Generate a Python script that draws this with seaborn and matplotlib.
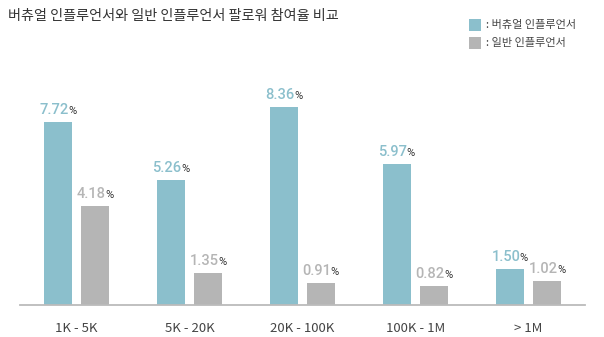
import matplotlib
matplotlib.use("Agg")
import matplotlib.pyplot as plt
import seaborn as sns
import pandas as pd
from matplotlib.patches import Rectangle

categories = ["1K - 5K", "5K - 20K", "20K - 100K", "100K - 1M", "> 1M"]
virtual = [7.72, 5.26, 8.36, 5.97, 1.50]
general = [4.18, 1.35, 0.91, 0.82, 1.02]
series_names = ["버츄얼 인플루언서", "일반 인플루언서"]
title = "버츄얼 인플루언서와 일반 인플루언서 팔로워 참여율 비교"

colors = ["#8bbfcc", "#b5b5b5"]

sns.set_theme(style="white")
plt.rcParams["font.family"] = ["Noto Sans CJK KR", "DejaVu Sans"]

df = pd.DataFrame({
    "cat": categories * 2,
    "val": virtual + general,
    "series": [series_names[0]] * len(categories) + [series_names[1]] * len(categories),
})

fig = plt.figure(figsize=(6.04, 3.37), dpi=100)
W, H = 604, 337
ax = fig.add_axes([20 / W, (H - 305) / H, 565 / W, 237 / H])
sns.barplot(data=df, x="cat", y="val", hue="series", order=categories,
            hue_order=series_names, palette=colors, width=0.656, gap=0.268,
            saturation=1, errorbar=None, ax=ax, legend=False, linewidth=0)
ax.set_xlim(-0.5, 4.5)
ax.set_ylim(0, 10)
ax.set_xlabel("")
ax.set_ylabel("")
ax.set_yticks([])
for s in ["top", "left", "right"]:
    ax.spines[s].set_visible(False)
ax.spines["bottom"].set_color("#bbbbbb")
ax.spines["bottom"].set_linewidth(1.3)
ax.tick_params(axis="x", length=0, pad=12, labelsize=9.5, labelcolor="#444444")
for lab in ax.get_xticklabels():
    lab.set_family(["Noto Sans CJK KR", "DejaVu Sans"])

fig.text(8 / W, 1 - 16 / H, title, fontsize=10.2, color="#333333", va="center", ha="left")

# legend
for i, (name, c) in enumerate(zip(series_names, colors)):
    y_top = 19 + i * 18
    fig.patches.append(Rectangle((469 / W, 1 - (y_top + 12) / H), 12 / W, 12 / H,
                                 transform=fig.transFigure, facecolor=c, edgecolor="none"))
    fig.text(486 / W, 1 - (y_top + 6) / H, ": " + name, fontsize=8, color="#444444",
             va="center", ha="left")

# value labels
fig.canvas.draw()
renderer = fig.canvas.get_renderer()
bars = [p for p in ax.patches if p.get_height() > 0]
trans = ax.transData
for p in bars:
    h = p.get_height()
    xc = p.get_x() + p.get_width() / 2
    col = p.get_facecolor()
    t1 = ax.text(0, 0, f"{h:.2f}", fontsize=10.5, fontweight="medium", color=col,
                 family=["Roboto", "DejaVu Sans"], ha="left", va="baseline")
    t2 = ax.text(0, 0, "%", fontsize=8, color="#333333",
                 family=["Roboto", "DejaVu Sans"], ha="left", va="baseline")
    w1 = t1.get_window_extent(renderer).width
    w2 = t2.get_window_extent(renderer).width
    px, py = trans.transform((xc, h))
    start = px - (w1 + w2) / 2
    base = py + 8
    inv = trans.inverted()
    t1.set_position(inv.transform((start, base)))
    t2.set_position(inv.transform((start + w1 - 0.5, base)))

fig.savefig("out.png", dpi=100)
